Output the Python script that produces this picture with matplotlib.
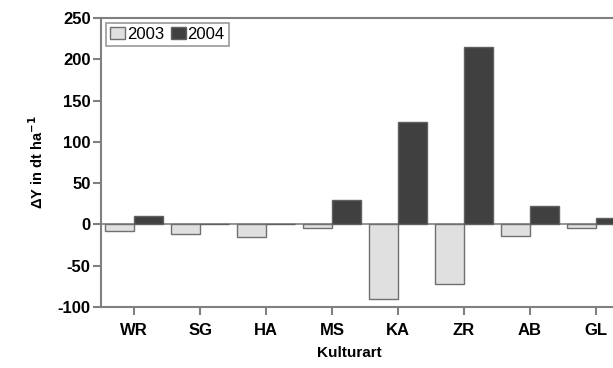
import matplotlib.pyplot as plt
import numpy as np

plt.rcParams['font.family'] = ['Liberation Sans', 'DejaVu Sans']
plt.rcParams['axes.unicode_minus'] = False

# Kulturarten und Ertragsdifferenzen
kultur = ['WR', 'SG', 'HA', 'MS', 'KA', 'ZR', 'AB', 'GL']
dy_2003 = [-8, -11.5, -15, -4, -90.5, -72, -14.5, -4]
dy_2004 = [10, 0.5, 1, 29, 124.5, 215, 22.5, 7.5]

fig = plt.figure(figsize=(6.13, 3.68), dpi=100)
ax = fig.add_axes([0.165, 0.166, 0.835, 0.785])

x = np.arange(len(kultur))
w = 0.44
grey = '#808080'
ax.bar(x - w/2, dy_2003, w, color='#e0e0e0', edgecolor='#707070', linewidth=1, label='2003', zorder=3)
ax.bar(x + w/2, dy_2004, w, color='#404040', edgecolor='#606060', linewidth=1, label='2004', zorder=3)
ax.axhline(0, color=grey, linewidth=1.2, zorder=2)

ax.set_xlim(-0.5, 7.26)
ax.set_ylim(-100, 250)
ax.set_yticks(range(-100, 251, 50))
ax.set_xticks(x)
ax.set_xticklabels(kultur)

for s in ['left', 'bottom', 'top']:
    ax.spines[s].set_color(grey)
    ax.spines[s].set_linewidth(1.5)
ax.spines['right'].set_visible(False)
ax.tick_params(direction='out', length=5.5, width=1.5, color=grey, labelsize=12, pad=2)
for lab in ax.get_xticklabels() + ax.get_yticklabels():
    lab.set_fontweight('bold')
ax.tick_params(axis='x', pad=6)

ax.set_ylabel('ΔY in dt ha$^{\\mathbf{-1}}$', fontsize=10.5, fontweight='bold')
ax.yaxis.set_label_coords(-0.108, 0.5)
ax.set_xlabel('Kulturart', fontsize=11, fontweight='bold')
ax.xaxis.set_label_coords(0.484, -0.135)

leg = ax.legend(loc='upper left', ncol=2, fontsize=12, frameon=True, fancybox=False,
                handlelength=0.9, handleheight=0.75, handletextpad=0.1, columnspacing=0.4,
                borderpad=0.25, borderaxespad=0.3)
leg.get_frame().set_edgecolor(grey)
leg.get_frame().set_linewidth(1.2)

fig.savefig('out.png', dpi=100)
